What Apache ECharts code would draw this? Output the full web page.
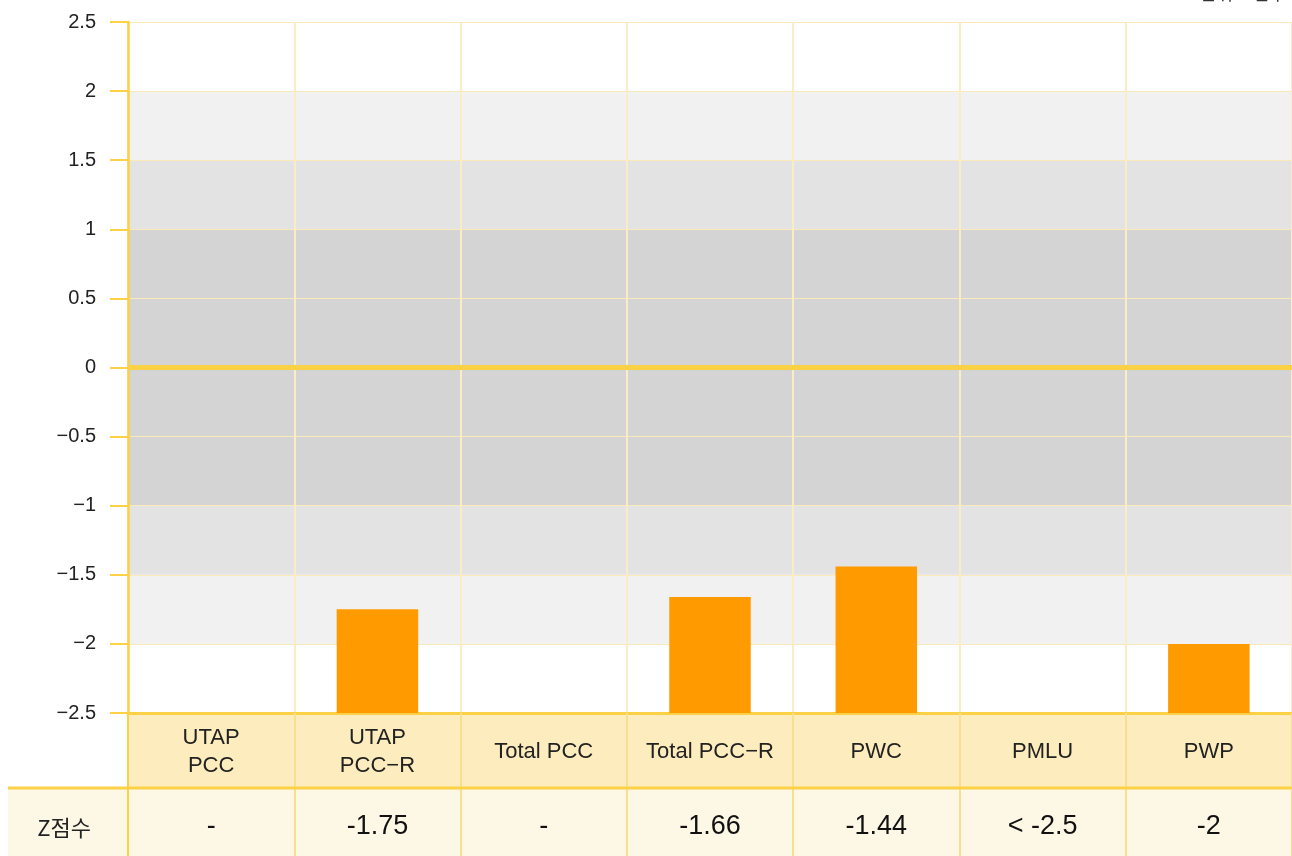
<!DOCTYPE html>
<html>
<head>
<meta charset="utf-8">
<script src="https://cdn.jsdelivr.net/npm/echarts@6/dist/echarts.min.js"></script>
<style>
  html, body { margin: 0; padding: 0; background: #fff; }
  #chart { width: 1292px; height: 856px; }
</style>
</head>
<body>
<div id="chart"></div>
<script>
const categories = ['UTAP\nPCC', 'UTAP\nPCC\u2212R', 'Total PCC', 'Total PCC\u2212R', 'PWC', 'PMLU', 'PWP'];
// null = no bar (not measured or below the axis)
const zScores = [null, -1.75, null, -1.66, -1.44, null, -2];
const zLabels = ['-', '-1.75', '-', '-1.66', '-1.44', '< -2.5', '-2'];
const rowTitle = 'Z점수';
const unitText = '단위: Z점수';
const yMin = -2.5;
const yMax = 2.5;

const yellow = '#fcd146';
const paleYellow = '#fbe9b8';
const font = '"Liberation Sans", Arial, "Noto Sans CJK KR", sans-serif';
const krFont = '"Noto Sans CJK KR", sans-serif';

const chart = echarts.init(document.getElementById('chart'));

const option = {
  animation: false,
  backgroundColor: '#fff',
  grid: { left: 128, right: 0, top: 22, bottom: 143 },
  graphic: [
    { type: 'rect', z: -10, shape: { x: 128, y: 713, width: 1164, height: 75 }, style: { fill: '#fdecbd' } },
    { type: 'rect', z: -10, shape: { x: 8, y: 788, width: 1284, height: 68 }, style: { fill: '#fdf7e6' } },
    { type: 'line', z: 10, shape: { x1: 8, y1: 788, x2: 1292, y2: 788 }, style: { stroke: yellow, lineWidth: 3 } },
    { type: 'line', z: 10, shape: { x1: 128, y1: 713, x2: 128, y2: 856 }, style: { stroke: yellow, lineWidth: 2 } },
    { type: 'text', z: 10, x: 64, y: 828, style: { text: rowTitle, font: '22px ' + krFont, fill: '#222', align: 'center', verticalAlign: 'middle' } },
    { type: 'text', z: 10, right: 6, top: -16, style: { text: unitText, font: '18px ' + krFont, fill: '#333' } }
  ],
  xAxis: [
    {
      type: 'category',
      data: categories,
      position: 'bottom',
      axisLine: { onZero: false, lineStyle: { color: yellow, width: 3 } },
      axisTick: { show: true, length: 143, lineStyle: { color: '#f9df90', width: 2 } },
      axisLabel: {
        margin: 39,
        verticalAlign: 'middle',
        interval: 0,
        fontSize: 22,
        lineHeight: 28,
        color: '#222',
        fontFamily: font
      },
      splitLine: { show: true, interval: 0, lineStyle: { color: '#fcecc6', width: 2 } }
    },
    {
      type: 'category',
      data: zLabels,
      position: 'bottom',
      offset: 75,
      axisLine: { show: false },
      axisTick: { show: false },
      axisLabel: {
        margin: 39,
        verticalAlign: 'middle',
        interval: 0,
        fontSize: 27,
        color: '#111',
        fontFamily: font
      }
    }
  ],
  yAxis: {
    type: 'value',
    min: yMin,
    max: yMax,
    interval: 0.5,
    axisLine: { show: true, lineStyle: { color: yellow, width: 2.5 } },
    axisTick: { show: true, length: 18, lineStyle: { color: yellow, width: 2 } },
    axisLabel: {
      margin: 32,
      fontSize: 20,
      color: '#222',
      fontFamily: font,
      formatter: v => String(v).replace('-', '\u2212')
    },
    splitLine: { show: true, lineStyle: { color: paleYellow, width: 1 } },
    splitArea: {
      show: true,
      areaStyle: {
        color: ['#ffffff', '#f1f1f1', '#e3e3e3', '#d4d4d4', '#d4d4d4',
                '#d4d4d4', '#d4d4d4', '#e3e3e3', '#f1f1f1', '#ffffff']
      }
    }
  },
  series: [
    {
      type: 'custom',
      z: 5,
      data: zScores.map((v, i) => [i, v == null ? '-' : v]),
      encode: { x: 0, y: 1 },
      renderItem: (params, api) => {
        const v = api.value(1);
        if (isNaN(v)) return null;
        const top = api.coord([api.value(0), v]);
        const base = api.coord([api.value(0), yMin]);
        const w = api.size([1, 0])[0] * 0.49;
        return {
          type: 'rect',
          shape: { x: top[0] - w / 2, y: top[1], width: w, height: base[1] - top[1] },
          style: { fill: '#ff9a00' }
        };
      },
      markLine: {
        silent: true,
        symbol: 'none',
        label: { show: false },
        lineStyle: { color: yellow, width: 5, type: 'solid' },
        data: [{ yAxis: 0 }]
      }
    }
  ]
};

chart.setOption(option);
</script>
</body>
</html>
